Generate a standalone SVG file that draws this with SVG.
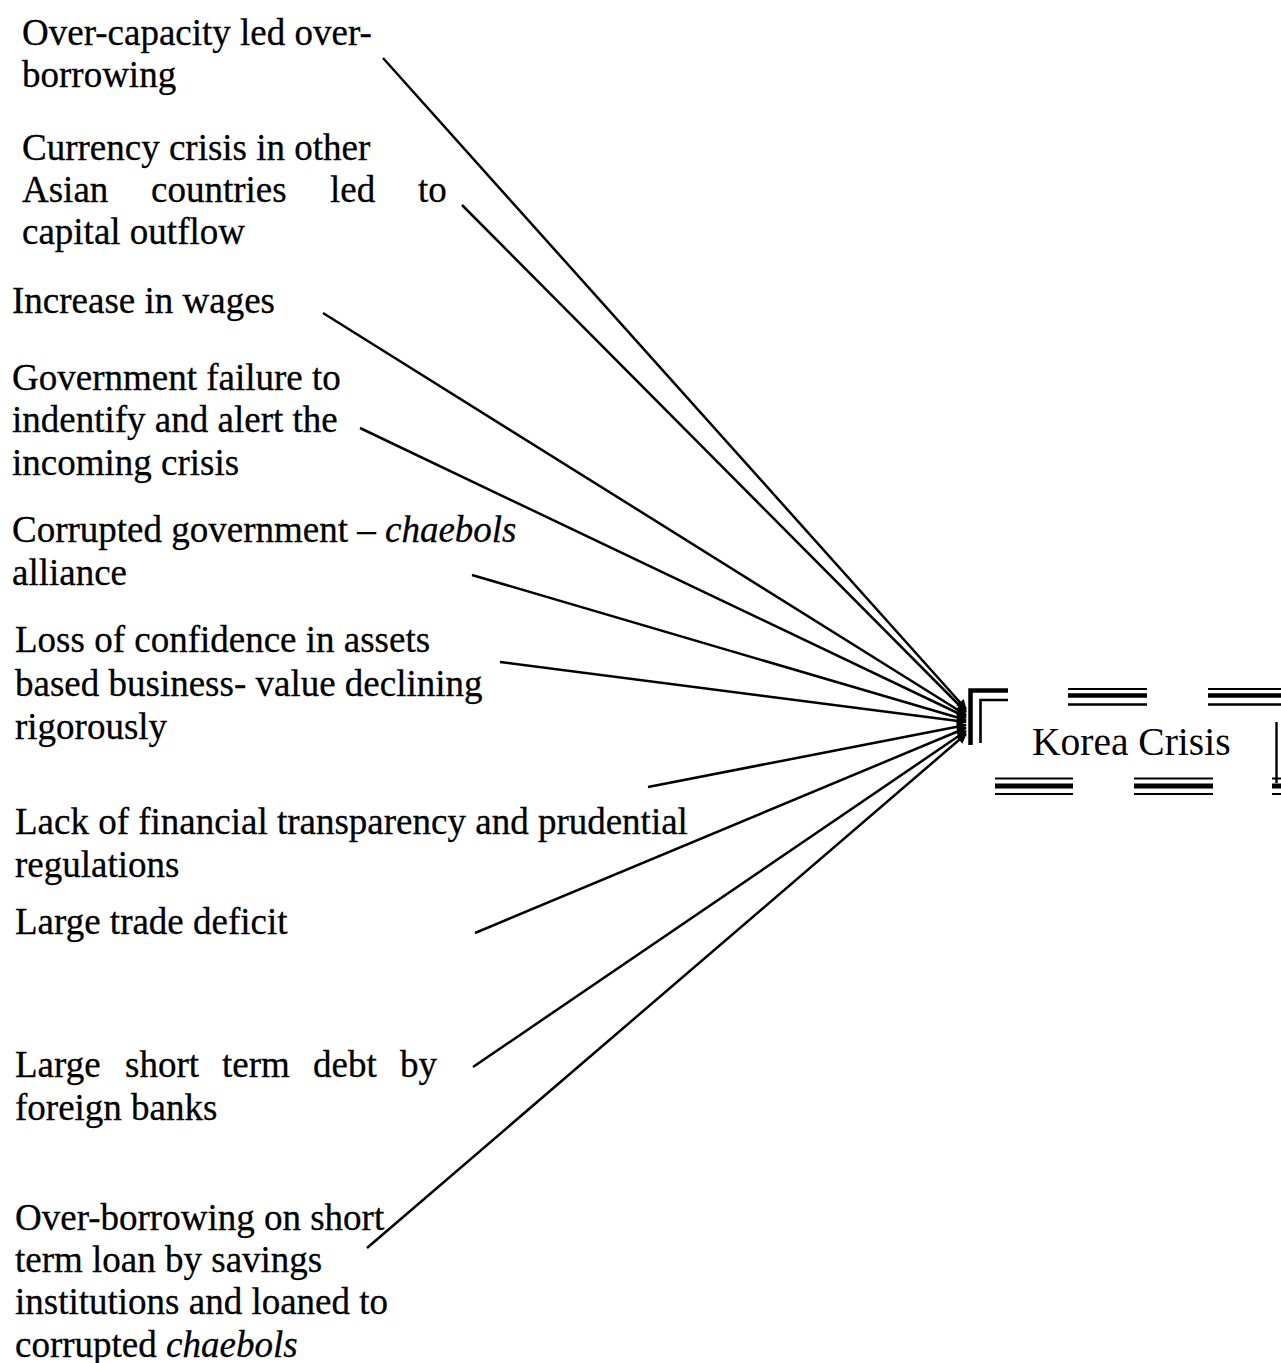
<svg xmlns="http://www.w3.org/2000/svg" width="1281" height="1363" viewBox="0 0 1281 1363">
  <style>
    .lbl { font-family: "Liberation Serif", "Times New Roman", serif; font-size: 37px; fill: #000; stroke: #000; stroke-width: 0.3; }
    .it { font-style: italic; }
    .ttl { font-family: "Liberation Serif", "Times New Roman", serif; font-size: 39.5px; fill: #000; }
    .conn { stroke: #000; stroke-width: 2.5; fill: none; marker-end: url(#arrow); }
    .thin { stroke: #000; stroke-width: 1.8; fill: none; }
    .thick { stroke: #000; stroke-width: 4.5; fill: none; }
  </style>
  <defs>
    <marker id="arrow" viewBox="0 0 10 10" refX="9" refY="5" markerWidth="5" markerHeight="4" orient="auto" markerUnits="strokeWidth">
      <path d="M0,0 L10,5 L0,10 z" fill="#000"/>
    </marker>
  </defs>
  <rect width="1281" height="1363" fill="#fff"/>

  <!-- cause nodes -->
  <g id="n-overcapacity">
    <text class="lbl" x="22" y="45">Over-capacity led over-</text>
    <text class="lbl" x="22" y="87">borrowing</text>
  </g>
  <g id="n-currency">
    <text class="lbl" x="22" y="160">Currency crisis in other</text>
    <text class="lbl" y="202"><tspan x="22">Asian</tspan><tspan x="151">countries</tspan><tspan x="330">led</tspan><tspan x="418">to</tspan></text>
    <text class="lbl" x="22" y="244">capital outflow</text>
  </g>
  <g id="n-wages">
    <text class="lbl" x="12" y="313">Increase in wages</text>
  </g>
  <g id="n-government">
    <text class="lbl" x="12" y="390">Government failure to</text>
    <text class="lbl" x="12" y="432">indentify and alert the</text>
    <text class="lbl" x="12" y="475">incoming crisis</text>
  </g>
  <g id="n-alliance">
    <text class="lbl" x="12" y="542">Corrupted government – <tspan class="it">chaebols</tspan></text>
    <text class="lbl" x="12" y="585">alliance</text>
  </g>
  <g id="n-confidence">
    <text class="lbl" x="15" y="652">Loss of confidence in assets</text>
    <text class="lbl" x="15" y="696">based business- value declining</text>
    <text class="lbl" x="15" y="739">rigorously</text>
  </g>
  <g id="n-transparency">
    <text class="lbl" x="15" y="834">Lack of financial transparency and prudential</text>
    <text class="lbl" x="15" y="877">regulations</text>
  </g>
  <g id="n-trade">
    <text class="lbl" x="15" y="934">Large trade deficit</text>
  </g>
  <g id="n-shortdebt">
    <text class="lbl" y="1077"><tspan x="15">Large</tspan><tspan x="125">short</tspan><tspan x="222">term</tspan><tspan x="313">debt</tspan><tspan x="400">by</tspan></text>
    <text class="lbl" x="15" y="1120">foreign banks</text>
  </g>
  <g id="n-overborrowing">
    <text class="lbl" x="15" y="1230">Over-borrowing on short</text>
    <text class="lbl" x="15" y="1272">term loan by savings</text>
    <text class="lbl" x="15" y="1314">institutions and loaned to</text>
    <text class="lbl" x="15" y="1357">corrupted <tspan class="it">chaebols</tspan></text>
  </g>

  <!-- target node: dashed triple-line frame -->
  <g id="n-korea">
    <!-- top edge -->
    <path class="thin" d="M1068,689 H1147 M1208,689 H1281"/>
    <path class="thick" d="M1068,695.5 H1147 M1208,695.5 H1281"/>
    <path class="thin" d="M1068,704.5 H1147 M1208,704.5 H1281" style="stroke-width:2.4"/>
    <!-- top-left corner -->
    <path class="thick" d="M970.5,745 V690.5 H1008"/>
    <path class="thin" d="M980.5,743 V700 H1008" style="stroke-width:2.6"/>
    <!-- bottom edge -->
    <path class="thin" d="M995,778.5 H1073 M1134,778.5 H1213 M1272,778.5 H1281"/>
    <path class="thick" d="M995,786 H1073 M1134,786 H1213 M1272,786 H1281" style="stroke-width:5"/>
    <path class="thin" d="M995,794 H1073 M1134,794 H1213 M1272,794 H1281"/>
    <!-- right edge -->
    <path class="thin" d="M1276.5,722 V783" style="stroke-width:2.4"/>
    <text class="ttl" x="1032" y="755">Korea Crisis</text>
  </g>

  <!-- connectors -->
  <g id="connectors">
    <line class="conn" x1="383" y1="58" x2="966" y2="709"/>
    <line class="conn" x1="462" y1="205" x2="966" y2="712"/>
    <line class="conn" x1="323" y1="313" x2="966" y2="715"/>
    <line class="conn" x1="360" y1="428" x2="966" y2="717"/>
    <line class="conn" x1="472" y1="575" x2="966" y2="720"/>
    <line class="conn" x1="500" y1="662" x2="966" y2="722"/>
    <line class="conn" x1="648" y1="787" x2="966" y2="725"/>
    <line class="conn" x1="475" y1="933" x2="966" y2="728"/>
    <line class="conn" x1="473" y1="1067" x2="966" y2="731"/>
    <line class="conn" x1="367" y1="1248" x2="966" y2="734"/>
  </g>
</svg>
